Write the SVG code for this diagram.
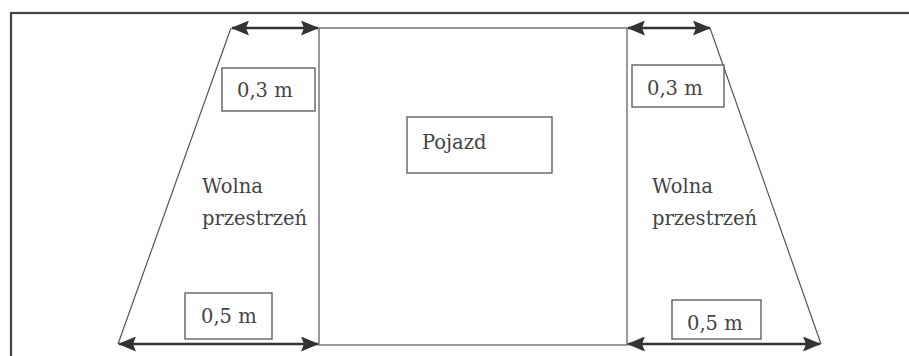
<svg xmlns="http://www.w3.org/2000/svg" width="909" height="356" viewBox="0 0 909 356">
<style>
.thin{fill:none;stroke:#555;stroke-width:1.2}
.box{fill:#fff;stroke:#555;stroke-width:1.3}
.dim{fill:none;stroke:#333;stroke-width:2.4}
.t{font-family:'DejaVu Serif',serif;font-size:19.5px;fill:#444}
</style>
<defs>
<marker id="ah" viewBox="0 0 18 15" refX="17" refY="7.5" markerWidth="18" markerHeight="15" markerUnits="userSpaceOnUse" orient="auto-start-reverse">
<path d="M0,0 L18,7.5 L0,15 L3,7.5 Z" fill="#333"/>
</marker>
</defs>
<rect x="0" y="0" width="909" height="356" fill="#fff"/>
<rect id="frame" x="11" y="13" width="920" height="370" fill="none" stroke="#444" stroke-width="2.2"/>
<g id="vehicle">
<rect x="319" y="28" width="308" height="317" class="thin"/>
</g>
<g id="pojazd">
<rect x="407" y="117" width="145" height="56" class="box"/>
<text class="t" x="422" y="149">Pojazd</text>
</g>
<g id="left-space">
<line x1="231" y1="28" x2="118" y2="344" class="thin"/>
<text class="t" x="202" y="193">Wolna</text>
<text class="t" x="202" y="225">przestrzeń</text>
</g>
<g id="right-space">
<line x1="710" y1="28" x2="821" y2="344" class="thin"/>
<text class="t" x="652" y="193">Wolna</text>
<text class="t" x="652" y="225">przestrzeń</text>
</g>
<g id="label-left-top">
<rect x="222" y="68" width="93" height="43" class="box"/>
<text class="t" x="237" y="97">0,3 m</text>
</g>
<g id="label-right-top">
<rect x="632" y="65" width="92" height="42" class="box"/>
<text class="t" x="647" y="95">0,3 m</text>
</g>
<g id="label-left-bottom">
<rect x="185" y="293" width="87" height="46" class="box"/>
<text class="t" x="201" y="323">0,5 m</text>
</g>
<g id="label-right-bottom">
<rect x="672" y="300" width="89" height="39" class="box"/>
<text class="t" x="687" y="330">0,5 m</text>
</g>
<g id="connectors">
<line x1="232" y1="28" x2="318" y2="28" class="dim" marker-start="url(#ah)" marker-end="url(#ah)"/>
<line x1="628" y1="28" x2="710" y2="28" class="dim" marker-start="url(#ah)" marker-end="url(#ah)"/>
<line x1="119" y1="344" x2="318" y2="344" class="dim" marker-start="url(#ah)" marker-end="url(#ah)"/>
<line x1="628" y1="344" x2="820" y2="344" class="dim" marker-start="url(#ah)" marker-end="url(#ah)"/>
</g>
</svg>
